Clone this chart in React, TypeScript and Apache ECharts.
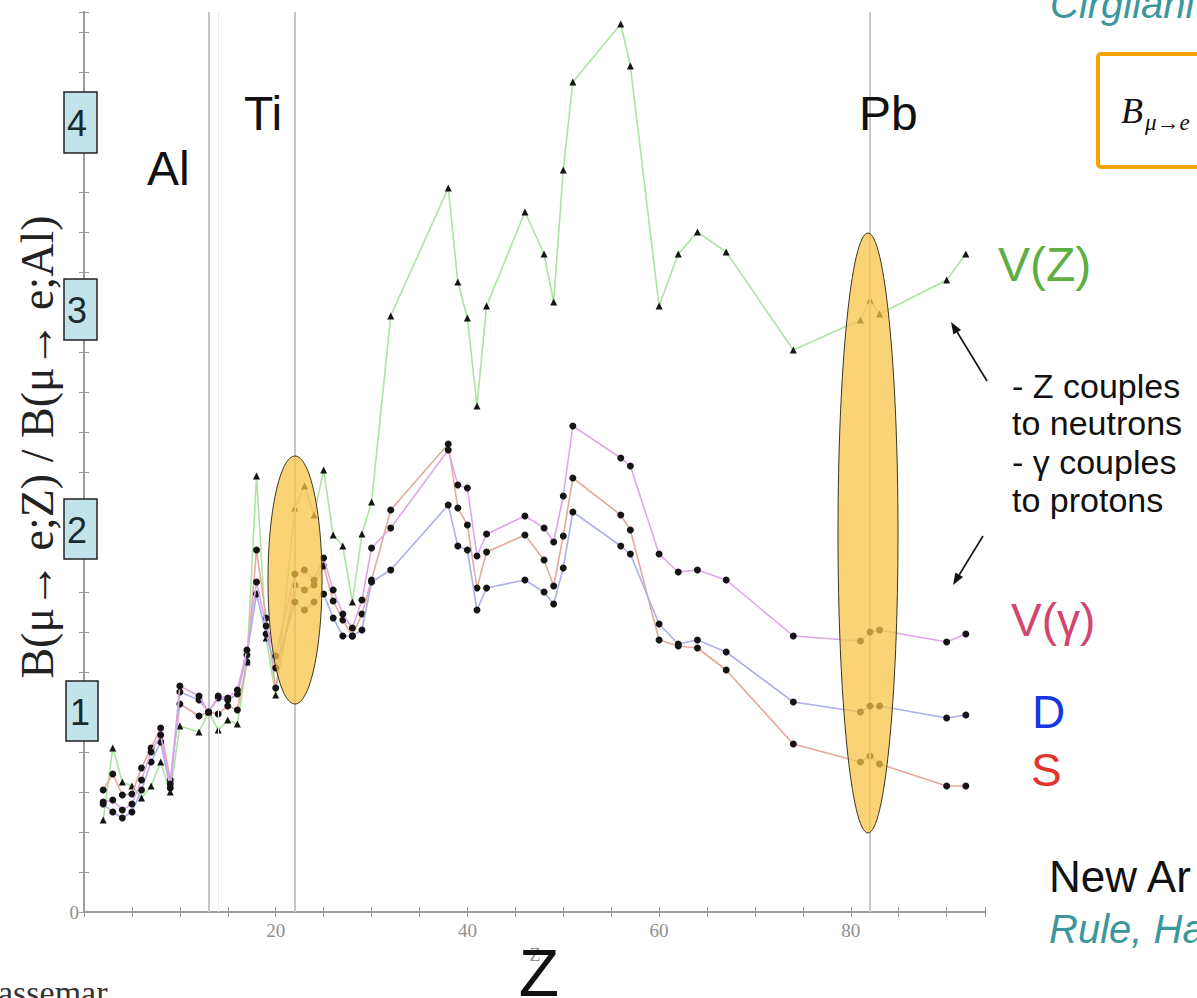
import React, { useEffect, useRef } from 'react';
import * as echarts from 'echarts';

// Nuclei (atomic number Z) shown in the plot
const Z_NUCLEI = [2, 3, 4, 5, 6, 7, 8, 9, 10, 12, 13, 14, 15, 16, 17, 18, 19, 20, 22, 23, 24, 25, 26, 27, 28, 29, 30, 32, 38, 39, 40, 41, 42, 46, 48, 49, 50, 51, 56, 57, 60, 62, 64, 67, 74, 81, 82, 83, 90, 92];

// B(mu->e;Z)/B(mu->e;Al) for each model
const V_Z = [0.46, 0.82, 0.65, 0.63, 0.57, 0.63, 0.75, 0.6, 0.93, 0.9, 1.0, 0.91, 0.96, 0.94, 1.25, 2.18, 1.37, 1.085, 2.02, 2.13, 1.985, 2.21, 1.885, 1.83, 1.55, 1.89, 2.05, 2.98, 3.62, 3.15, 2.97, 2.53, 3.03, 3.5, 3.29, 3.05, 3.71, 4.15, 4.44, 4.23, 3.03, 3.29, 3.4, 3.3, 2.81, 2.96, 3.06, 2.99, 3.16, 3.29];
const V_GAMMA = [0.55, 0.56, 0.51, 0.54, 0.66, 0.8, 0.885, 0.64, 1.13, 1.08, 1.0, 1.08, 1.07, 1.11, 1.31, 1.65, 1.43, 1.28, 1.69, 1.71, 1.66, 1.77, 1.61, 1.49, 1.42, 1.56, 1.82, 1.92, 2.31, 2.135, 2.12, 1.78, 1.89, 1.98, 1.92, 1.85, 2.08, 2.43, 2.27, 2.23, 1.79, 1.7, 1.71, 1.66, 1.38, 1.355, 1.4, 1.41, 1.35, 1.39];
const DIPOLE = [0.54, 0.5, 0.47, 0.5, 0.61, 0.75, 0.85, 0.62, 1.1, 1.06, 1.0, 1.07, 1.06, 1.09, 1.285, 1.59, 1.39, 1.22, 1.55, 1.51, 1.55, 1.59, 1.47, 1.38, 1.38, 1.41, 1.65, 1.71, 2.035, 1.83, 1.81, 1.51, 1.62, 1.66, 1.6, 1.54, 1.72, 2.0, 1.83, 1.79, 1.44, 1.34, 1.36, 1.3, 1.05, 1.0, 1.03, 1.03, 0.97, 0.985];
const SCALAR = [0.61, 0.69, 0.585, 0.59, 0.72, 0.82, 0.92, 0.66, 1.04, 0.98, 1.0, 0.99, 1.03, 1.01, 1.25, 1.81, 1.47, 1.12, 1.635, 1.61, 1.635, 1.73, 1.555, 1.46, 1.38, 1.49, 1.66, 2.01, 2.34, 2.02, 1.935, 1.62, 1.8, 1.885, 1.76, 1.63, 1.88, 2.17, 1.985, 1.91, 1.36, 1.33, 1.32, 1.21, 0.84, 0.75, 0.78, 0.74, 0.63, 0.63];

// Highlighted elements (vertical lines) and tick labels
const MARKED_Z = [13, 22, 82];
const FAINT_Z = [14];
const X_TICK_LABELS = [20, 40, 60, 80];
const Y_BOX_LABELS = ['4', '3', '2', '1'];

const SANS = '"Liberation Sans", Arial, sans-serif';
const SERIF = '"Liberation Serif", "Times New Roman", serif';

function txt(text: string, x: number, y: number, size: number, fill: string, extra: any = {}) {
  return {
    type: 'text',
    z: 120,
    silent: true,
    style: {
      text,
      x,
      y,
      fill,
      fontSize: size,
      fontFamily: SANS,
      textAlign: 'left',
      textVerticalAlign: 'middle',
      ...extra,
    },
  };
}

function arrow(x1: number, y1: number, x2: number, y2: number) {
  const dx = x2 - x1;
  const dy = y2 - y1;
  const len = Math.sqrt(dx * dx + dy * dy);
  const ux = dx / len;
  const uy = dy / len;
  const bx = x2 - ux * 12;
  const by = y2 - uy * 12;
  const px = -uy * 4.5;
  const py = ux * 4.5;
  return [
    { type: 'line', z: 120, silent: true, shape: { x1, y1, x2: bx, y2: by }, style: { stroke: '#111', lineWidth: 1.6 } },
    {
      type: 'polygon',
      z: 120,
      silent: true,
      shape: { points: [[x2, y2], [bx + px, by + py], [bx - px, by - py]] },
      style: { fill: '#111' },
    },
  ];
}

export default function App() {
  const ref = useRef<HTMLDivElement>(null);

  useEffect(() => {
    const chart = echarts.init(ref.current as HTMLDivElement, null, { renderer: 'svg' });
    const pair = (ys: number[]) => Z_NUCLEI.map((z, i) => [z, ys[i]]);

    const axisLine = { show: true, lineStyle: { color: '#9c9c9c', width: 2 } };
    const axisTick = { show: true, inside: true, length: 5, lineStyle: { color: '#9c9c9c', width: 1 } };

    const boxPos = [
      { x: 64, y: 92, w: 33, h: 61, tx: 77 },
      { x: 64, y: 279, w: 33, h: 61, tx: 77 },
      { x: 64, y: 499, w: 33, h: 60, tx: 77 },
      { x: 66, y: 681, w: 32, h: 60, tx: 80 },
    ];
    const boxes: any[] = [];
    Y_BOX_LABELS.forEach((lab, i) => {
      const b = boxPos[i];
      boxes.push({
        type: 'rect',
        z: 110,
        silent: true,
        shape: { x: b.x, y: b.y, width: b.w, height: b.h },
        style: { fill: '#c3e3ea', stroke: '#222', lineWidth: 1.5 },
      });
      boxes.push(txt(lab, b.tx, b.y + b.h / 2 + 1, 36, '#1b2a2a', { textAlign: 'center' }));
    });

    const lineSeries = (name: string, ys: number[], color: string, symbol: string, size: number, z: number, extra: any = {}) => ({
      name,
      type: 'line',
      data: pair(ys),
      symbol,
      symbolSize: size,
      showSymbol: true,
      silent: true,
      z,
      itemStyle: { color: '#151515' },
      lineStyle: { color, width: 1.6 },
      emphasis: { disabled: true },
      ...extra,
    });

    const option: any = {
      animation: false,
      backgroundColor: '#ffffff',
      grid: { left: 84, right: 212, top: 12, bottom: 86, containLabel: false },
      xAxis: [
        {
          type: 'value',
          min: 0,
          max: 94,
          interval: 5,
          position: 'bottom',
          axisLine,
          axisTick,
          splitLine: { show: false },
          axisLabel: {
            color: '#8f8f8f',
            fontFamily: SERIF,
            fontSize: 19,
            margin: 9,
            formatter: (v: number) => (X_TICK_LABELS.indexOf(Math.round(v)) >= 0 && Math.abs(v - Math.round(v)) < 1e-6 ? String(Math.round(v)) : ''),
          },
        },
        {
          type: 'value',
          min: 0,
          max: 94,
          interval: 5,
          position: 'top',
          axisLine,
          axisTick,
          splitLine: { show: false },
          axisLabel: { show: false },
        },
      ],
      yAxis: [
        {
          type: 'value',
          min: 0,
          max: 4.5,
          interval: 0.2,
          position: 'left',
          axisLine,
          axisTick,
          splitLine: { show: false },
          axisLabel: {
            color: '#8f8f8f',
            fontFamily: SERIF,
            fontSize: 19,
            margin: 5,
            formatter: (v: number) => (Math.abs(v) < 1e-9 ? '0' : ''),
          },
        },
        {
          type: 'value',
          min: 0,
          max: 4.5,
          interval: 0.2,
          position: 'right',
          axisLine,
          axisTick,
          splitLine: { show: false },
          axisLabel: { show: false },
        },
      ],
      series: [
        lineSeries('V(Z)', V_Z, '#ace3a3', 'triangle', 7, 3, {
          markLine: {
            silent: true,
            symbol: ['none', 'none'],
            label: { show: false },
            lineStyle: { color: '#c8c8c8', width: 2, type: 'solid' },
            data: [
              ...MARKED_Z.map((z) => ({ xAxis: z })),
              ...FAINT_Z.map((z) => ({ xAxis: z, lineStyle: { color: '#ededed', width: 1, type: 'solid' } })),
            ],
          },
        }),
        lineSeries('S', SCALAR, '#e4aa9c', 'circle', 7, 4),
        lineSeries('D', DIPOLE, '#aab0ea', 'circle', 7, 5),
        lineSeries('V(γ)', V_GAMMA, '#dea8e8', 'circle', 7, 6),
      ],
      graphic: [
        // highlighted ellipses
        {
          type: 'ellipse',
          z: 100,
          silent: true,
          shape: { cx: 295, cy: 580, rx: 27, ry: 124 },
          style: { fill: 'rgba(248,196,72,0.74)', stroke: '#3b3520', lineWidth: 1 },
        },
        {
          type: 'ellipse',
          z: 100,
          silent: true,
          shape: { cx: 868, cy: 533, rx: 30, ry: 300 },
          style: { fill: 'rgba(248,196,72,0.74)', stroke: '#3b3520', lineWidth: 1 },
        },
        // element labels
        txt('Al', 147, 168, 48, '#111'),
        txt('Ti', 244, 113, 48, '#111'),
        txt('Pb', 859, 113, 48, '#111'),
        // y boxes
        ...boxes,
        // y-axis title
        {
          type: 'text',
          z: 120,
          silent: true,
          rotation: Math.PI / 2,
          x: 37,
          y: 447,
          style: {
            text: 'B(μ→ e;Z) / B(μ→ e;Al)',
            x: 0,
            y: 0,
            fill: '#222',
            fontSize: 46,
            fontFamily: SERIF,
            textAlign: 'center',
            textVerticalAlign: 'middle',
          },
        },
        // x-axis title
        txt('Z', 535, 955, 18, '#8a8a8a', { fontFamily: SERIF, textAlign: 'center' }),
        txt('Z', 539, 973, 66, '#111', { textAlign: 'center' }),
        // right-hand legend texts
        txt('Cirgliani', 1050, 4, 40, '#3b979b', { fontStyle: 'italic' }),
        {
          type: 'rect',
          z: 110,
          silent: true,
          shape: { x: 1098, y: 54, width: 140, height: 113, r: 3 },
          style: { fill: 'none', stroke: '#f5a300', lineWidth: 4 },
        },
        txt('B', 1121, 111, 36, '#111', { fontFamily: SERIF, fontStyle: 'italic' }),
        txt('μ→e', 1145, 122, 23, '#111', { fontFamily: SERIF, fontStyle: 'italic' }),
        txt('V(Z)', 998, 264, 48, '#5fae42'),
        txt('- Z couples', 1012, 386, 34, '#111'),
        txt('to neutrons', 1012, 423, 34, '#111'),
        txt('- γ couples', 1012, 462, 34, '#111'),
        txt('to protons', 1012, 500, 34, '#111'),
        ...arrow(987, 381, 951, 322),
        ...arrow(983, 536, 953, 585),
        txt('V(γ)', 1011, 620, 46, '#d2456f'),
        txt('D', 1032, 712, 46, '#1637df'),
        txt('S', 1031, 770, 46, '#e2342a'),
        txt('New Ar', 1049, 876, 44, '#111'),
        txt('Rule, Ha', 1049, 929, 40, '#3b979b', { fontStyle: 'italic' }),
        txt('assemar', -2, 992, 34, '#333', { fontFamily: SERIF }),
      ],
    };

    chart.setOption(option);
    return () => chart.dispose();
  }, []);

  return (
    <div
      ref={ref}
      style={{ position: 'absolute', left: 0, top: 0, width: 1197, height: 998, background: '#ffffff' }}
    />
  );
}
